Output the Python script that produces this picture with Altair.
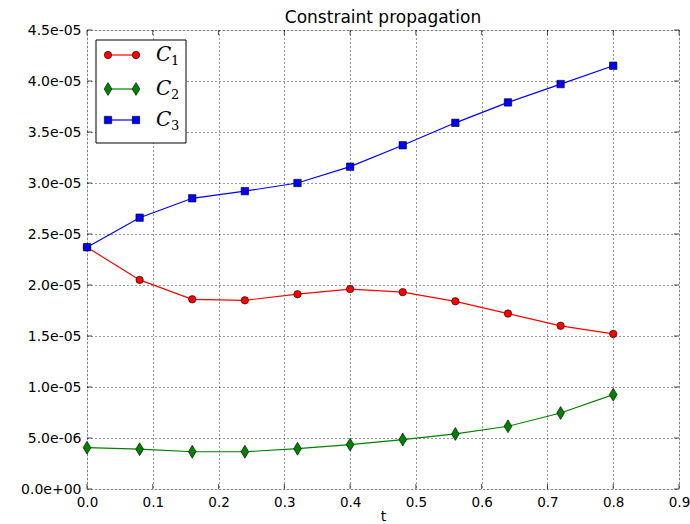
import altair as alt
import pandas as pd

t_values = [0.0, 0.08, 0.16, 0.24, 0.32, 0.40, 0.48, 0.56, 0.64, 0.72, 0.80]
c1 = [2.37e-5, 2.05e-5, 1.86e-5, 1.85e-5, 1.91e-5, 1.96e-5, 1.93e-5, 1.84e-5, 1.72e-5, 1.60e-5, 1.52e-5]
c2 = [4.05e-6, 3.90e-6, 3.65e-6, 3.65e-6, 3.95e-6, 4.35e-6, 4.85e-6, 5.40e-6, 6.15e-6, 7.45e-6, 9.25e-6]
c3 = [2.37e-5, 2.66e-5, 2.85e-5, 2.92e-5, 3.00e-5, 3.16e-5, 3.37e-5, 3.59e-5, 3.79e-5, 3.97e-5, 4.15e-5]
series_names = ["C1", "C2", "C3"]
series_subs = ["1", "2", "3"]
colors = ["#ff0000", "#008000", "#0000ff"]
thin_diamond = "M0,-1.75L1.05,0L0,1.75L-1.05,0Z"
shapes = ["circle", thin_diamond, "square"]
x_ticks = [0.0, 0.1, 0.2, 0.3, 0.4, 0.5, 0.6, 0.7, 0.8, 0.9]
y_ticks = [0, 5e-6, 1e-5, 1.5e-5, 2e-5, 2.5e-5, 3e-5, 3.5e-5, 4e-5, 4.5e-5]

rows = []
for name, vals in zip(series_names, [c1, c2, c3]):
    for t, v in zip(t_values, vals):
        rows.append({"t": t, "value": v, "series": name})
df = pd.DataFrame(rows)

W, H = 592, 459

x = alt.X("t:Q", scale=alt.Scale(domain=[0, 0.9], nice=False, zero=False),
          axis=alt.Axis(values=x_ticks, format=".1f", title="t", grid=True,
                        gridColor="#000000", gridDash=[1, 3], gridOpacity=0.8,
                        domain=False, ticks=False, labelFlush=False,
                        labelFontSize=13.5, labelFont="DejaVu Sans", labelColor="#000000",
                        labelPadding=6, titleFontSize=14, titleFont="DejaVu Sans",
                        titleFontWeight="normal", titlePadding=1, titleColor="#000000"))
y = alt.Y("value:Q", scale=alt.Scale(domain=[0, 4.5e-5], nice=False),
          axis=alt.Axis(values=y_ticks, title=None, grid=True,
                        gridColor="#000000", gridDash=[1, 3], gridOpacity=0.8,
                        domain=False, ticks=False, labelFlush=False,
                        labelFontSize=14, labelFont="DejaVu Sans", labelColor="#000000",
                        labelPadding=6,
                        labelExpr="datum.value == 0 ? '0.0e+00' : (datum.value < 9.99e-6 ? format(datum.value*1e6, '.1f') + 'e-06' : format(datum.value*1e5, '.1f') + 'e-05')"))
color = alt.Color("series:N", scale=alt.Scale(domain=series_names, range=colors), legend=None)
shape = alt.Shape("series:N", scale=alt.Scale(domain=series_names, range=shapes), legend=None)

# inward ticks on all four sides
xt = pd.DataFrame({"t": x_ticks})
yt = pd.DataFrame({"value": y_ticks})
tick_layers = [
    alt.Chart(xt).mark_tick(size=5, thickness=1, color="#000000").encode(
        x=alt.X("t:Q"), y=alt.value(H - 2.5)),
    alt.Chart(xt).mark_tick(size=5, thickness=1, color="#000000").encode(
        x=alt.X("t:Q"), y=alt.value(2.5)),
    alt.Chart(yt).mark_tick(size=5, thickness=1, color="#000000").encode(
        y=alt.Y("value:Q"), x=alt.value(2.5)),
    alt.Chart(yt).mark_tick(size=5, thickness=1, color="#000000").encode(
        y=alt.Y("value:Q"), x=alt.value(W - 2.5)),
]

lines = alt.Chart(df).mark_line(strokeWidth=1.2).encode(x=x, y=y, color=color, detail="series:N")
points = alt.Chart(df).mark_point(filled=True, size=55, stroke="#000000", strokeWidth=0.6, opacity=1).encode(
    x=x, y=y, fill=alt.Fill("series:N", scale=alt.Scale(domain=series_names, range=colors), legend=None),
    shape=shape)

# legend
legend_layers = []
box = alt.Chart(pd.DataFrame({"a": [0]})).mark_rect(fill="white", stroke="#000000", strokeWidth=1).encode(
    x=alt.value(9), x2=alt.value(99), y=alt.value(10), y2=alt.value(113))
legend_layers.append(box)
row_y = [25, 59, 90]
for name, sub, col, shp, ry in zip(series_names, series_subs, colors, shapes, row_y):
    d = pd.DataFrame({"series": [name], "sub": [sub]})
    legend_layers.append(alt.Chart(d).mark_rule(strokeWidth=1.2, color=col).encode(
        x=alt.value(21), x2=alt.value(49), y=alt.value(ry)))
    for px in [21, 49]:
        legend_layers.append(alt.Chart(d).mark_point(filled=True, size=55, fill=col, stroke="#000000",
                                                     strokeWidth=0.6, opacity=1, shape=shp).encode(
            x=alt.value(px), y=alt.value(ry)))
    legend_layers.append(alt.Chart(d).mark_text(text="C", font="DejaVu Serif", fontStyle="italic",
                                                fontSize=20, align="left", baseline="middle",
                                                color="#000000").encode(
        x=alt.value(69), y=alt.value(ry)))
    legend_layers.append(alt.Chart(d).mark_text(font="DejaVu Serif", fontSize=13, align="left",
                                                baseline="middle", color="#000000").encode(
        text="sub:N", x=alt.value(84), y=alt.value(ry + 6)))

chart = alt.layer(lines, points, *tick_layers, *legend_layers).properties(
    width=W, height=H,
    title=alt.TitleParams("Constraint propagation", fontSize=17, font="DejaVu Sans",
                          fontWeight="normal", color="#000000", offset=-4),
    autosize=alt.AutoSizeParams(type="none"),
    padding={"left": 87, "top": 30, "right": 11, "bottom": 35},
).configure_view(stroke="#000000", strokeWidth=1.2).configure(background="white")

chart.save("out.html", embed_options={"renderer": "svg", "actions": False})
